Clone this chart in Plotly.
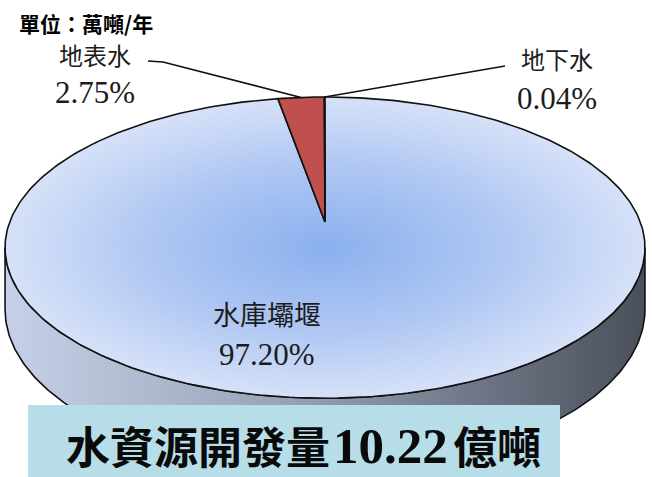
import numpy as np
import plotly.graph_objects as go

# Water resource development by source (share of total, %)
categories = ["水庫壩堰", "地表水", "地下水"]
shares = [97.20, 2.75, 0.04]
slice_colors = ["#a9c4f2", "#c0504d", "#9bbb59"]
unit_text = "單位：萬噸/年"
total_label = "水資源開發量"
total_value = "10.22"
total_unit = "億噸"

W, H = 652, 477

# Disc geometry in pixel space (perspective-projected circle)
CX, CY = 325.0, 222.0     # projected centre of the disc
RX, RY = 315.3, 146.25    # horizontal / vertical radius factors
PERSP = 0.17              # perspective strength (front appears larger)
DEPTH = 60.0              # thickness of the disc


def project(theta, drop=0.0):
    """theta measured clockwise from 12 o'clock (radians)."""
    u = np.sin(theta)
    v = np.cos(theta)
    f = 1.0 + PERSP * v
    return CX + RX * u / f, CY - RY * v / f + drop / f


fig = go.Figure()

# --- side wall of the disc (front half) ---
t_right = np.arccos(-PERSP)
t_left = 2 * np.pi - t_right
ts = np.linspace(t_right, t_left, 200)
xt, yt = project(ts)
xb, yb = project(ts[::-1], DEPTH)
fig.add_trace(go.Scatter(
    x=np.concatenate([xt, xb, xt[:1]]), y=np.concatenate([yt, yb, yt[:1]]),
    mode="lines", fill="toself",
    fillgradient=dict(type="horizontal",
                      colorscale=[[0, "#c6d0e8"], [0.45, "#97a1b6"], [1, "#4a505b"]]),
    line=dict(color="#111111", width=1.6), hoverinfo="skip"))

# --- top face slices, clockwise from 12 o'clock ---
total = sum(shares)
bounds = np.concatenate([[0.0], np.cumsum(shares) / total]) * 2 * np.pi
mids = []
for i, cat in enumerate(categories):
    a0, a1 = bounds[i], bounds[i + 1]
    mids.append((a0 + a1) / 2)
    n = max(3, int((a1 - a0) / (2 * np.pi) * 400))
    th = np.linspace(a0, a1, n)
    ax, ay = project(th)
    px = np.concatenate([[CX], ax, [CX]])
    py = np.concatenate([[CY], ay, [CY]])
    kw = dict(fillcolor=slice_colors[i])
    if i == 0:
        kw = dict(fillgradient=dict(type="radial",
                                    colorscale=[[0, "#8ab0ee"], [0.55, "#b0c7f3"], [1, "#d6e1f8"]]))
    fig.add_trace(go.Scatter(x=px, y=py, mode="lines", fill="toself",
                             line=dict(color="#111111", width=1.6),
                             name=cat, hoverinfo="skip", **kw))

# --- leader lines from the small slices to their labels ---
sx, sy = project(mids[1])
fig.add_trace(go.Scatter(x=[148, 163, sx], y=[61, 62, sy], mode="lines",
                         line=dict(color="#111111", width=1.6), hoverinfo="skip"))
gx, gy = project(mids[2])
fig.add_trace(go.Scatter(x=[gx, 505], y=[gy, 66], mode="lines",
                         line=dict(color="#111111", width=1.6), hoverinfo="skip"))

# --- text ---
cjk = "Noto Sans CJK TC"
serif = "Liberation Serif"
ink = "#1c1c1c"
pct = [f"{s:.2f}%" for s in shares]

ann = []
ann.append(dict(x=17, y=23, text=f"<b>{unit_text}</b>", xanchor="left",
                font=dict(family=cjk, size=21, color="#000000")))
label_pos = {0: (267, 313, 354), 1: (95, 54, 92), 2: (557, 58, 98)}
for i, cat in enumerate(categories):
    x, y1, y2 = label_pos[i]
    ann.append(dict(x=x, y=y1, text=cat,
                    font=dict(family=cjk, size=27 if i == 0 else 24, color=ink)))
    ann.append(dict(x=x, y=y2, text=pct[i],
                    font=dict(family=serif, size=31, color=ink)))

# headline inside the banner: CJK words with a serif figure in between
ann.append(dict(x=332, y=445, xanchor="right", text=f"<b>{total_label}</b>",
                font=dict(family=cjk, size=44, color="#0a0a0a")))
ann.append(dict(x=331, y=446, xanchor="left", text=f"<b>{total_value}</b>",
                font=dict(family=serif, size=51, color="#0a0a0a")))
ann.append(dict(x=451, y=445, xanchor="left", text=f"<b>{total_unit}</b>",
                font=dict(family=cjk, size=44, color="#0a0a0a")))

for a in ann:
    a.update(xref="x", yref="y", showarrow=False)

fig.update_layout(
    width=W, height=H, margin=dict(l=0, r=0, t=0, b=0),
    paper_bgcolor="white", plot_bgcolor="white", showlegend=False,
    xaxis=dict(range=[0, W], visible=False, fixedrange=True),
    yaxis=dict(range=[H, 0], visible=False, fixedrange=True),
    shapes=[dict(type="rect", xref="x", yref="y", x0=28, x1=560, y0=405, y1=477,
                 fillcolor="#b7dde8", line=dict(width=0), layer="above")],
    annotations=ann,
)

fig.write_html("out.html")
